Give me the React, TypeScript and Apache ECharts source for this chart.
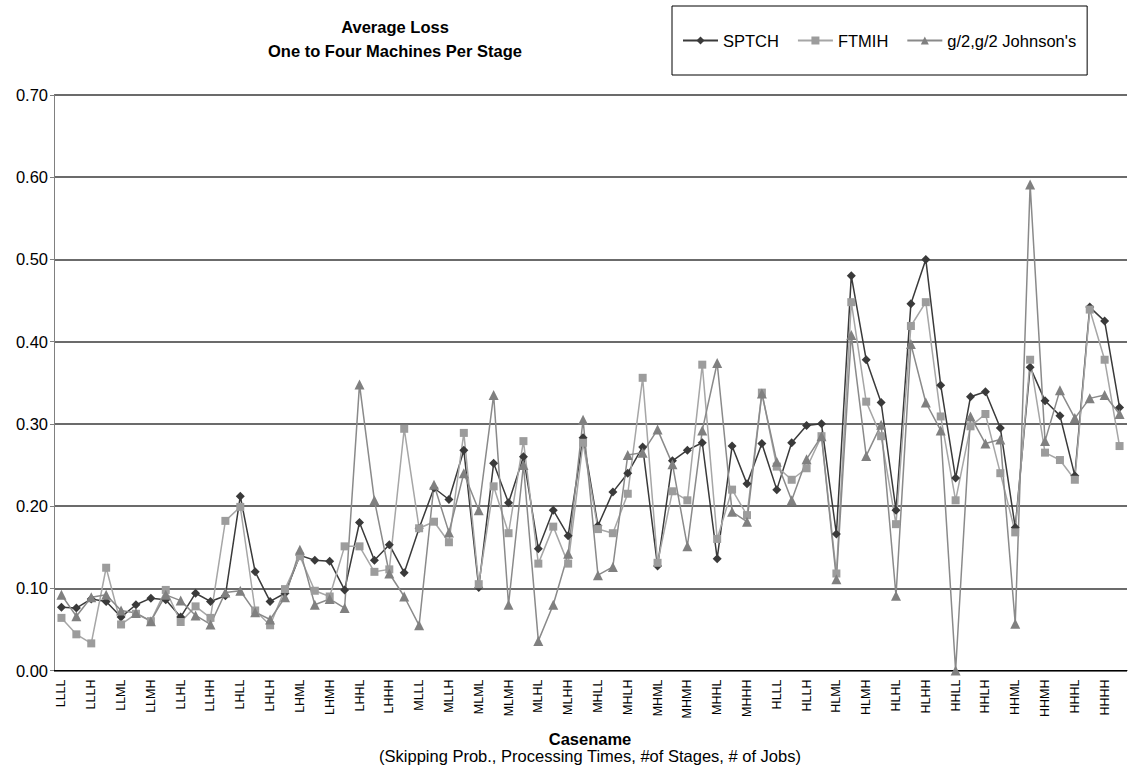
import React, { useEffect, useRef } from "react";
import * as echarts from "echarts";

const caseNames = [
  "LLLL", "LLLH", "LLML", "LLMH", "LLHL", "LLHH",
  "LHLL", "LHLH", "LHML", "LHMH", "LHHL", "LHHH",
  "MLLL", "MLLH", "MLML", "MLMH", "MLHL", "MLHH",
  "MHLL", "MHLH", "MHML", "MHMH", "MHHL", "MHHH",
  "HLLL", "HLLH", "HLML", "HLMH", "HLHL", "HLHH",
  "HHLL", "HHLH", "HHML", "HHMH", "HHHL", "HHHH",
];
// two rows per case name; only the first of each pair is labelled
const categories = caseNames.flatMap((n) => [n, n]);

const sptch = [
  0.077, 0.076, 0.087, 0.084, 0.065, 0.080, 0.088, 0.086, 0.065, 0.094, 0.084, 0.091,
  0.212, 0.120, 0.084, 0.094, 0.140, 0.134, 0.133, 0.098, 0.180, 0.134, 0.153, 0.119,
  0.173, 0.222, 0.208, 0.268, 0.101, 0.252, 0.204, 0.260, 0.148, 0.195, 0.164, 0.283,
  0.176, 0.217, 0.240, 0.272, 0.127, 0.255, 0.268, 0.277, 0.136, 0.273, 0.227, 0.276,
  0.220, 0.277, 0.298, 0.300, 0.166, 0.480, 0.378, 0.326, 0.195, 0.446, 0.500, 0.347,
  0.234, 0.333, 0.339, 0.295, 0.174, 0.369, 0.328, 0.310, 0.237, 0.442, 0.425, 0.320,
];

const ftmih = [
  0.064, 0.044, 0.033, 0.125, 0.056, 0.069, 0.060, 0.098, 0.059, 0.078, 0.064, 0.182,
  0.199, 0.073, 0.055, 0.099, 0.139, 0.097, 0.090, 0.151, 0.151, 0.120, 0.123, 0.294,
  0.173, 0.181, 0.156, 0.289, 0.105, 0.224, 0.167, 0.279, 0.130, 0.175, 0.130, 0.277,
  0.172, 0.167, 0.215, 0.356, 0.131, 0.218, 0.207, 0.372, 0.160, 0.220, 0.189, 0.338,
  0.248, 0.232, 0.246, 0.285, 0.118, 0.448, 0.327, 0.285, 0.178, 0.419, 0.448, 0.309,
  0.207, 0.297, 0.312, 0.240, 0.168, 0.378, 0.265, 0.256, 0.232, 0.439, 0.378, 0.273,
];

const johnson = [
  0.092, 0.066, 0.089, 0.092, 0.073, 0.070, 0.060, 0.092, 0.085, 0.067, 0.056, 0.095,
  0.097, 0.071, 0.062, 0.089, 0.147, 0.080, 0.087, 0.076, 0.348, 0.207, 0.118, 0.090,
  0.055, 0.226, 0.168, 0.240, 0.195, 0.335, 0.080, 0.250, 0.036, 0.080, 0.142, 0.305,
  0.116, 0.126, 0.262, 0.265, 0.293, 0.251, 0.151, 0.292, 0.374, 0.193, 0.181, 0.337,
  0.254, 0.207, 0.257, 0.285, 0.111, 0.408, 0.261, 0.299, 0.091, 0.397, 0.326, 0.292,
  0.000, 0.309, 0.276, 0.281, 0.057, 0.591, 0.279, 0.341, 0.307, 0.331, 0.335, 0.312,
];

const seriesNames = ["SPTCH", "FTMIH", "g/2,g/2 Johnson's"];

const FONT = '"Liberation Sans", Arial, Helvetica, sans-serif';
const FS = 16.5;

export default function App() {
  const ref = useRef<HTMLDivElement>(null);

  useEffect(() => {
    if (!ref.current) return;
    const chart = echarts.init(ref.current, undefined, { renderer: "svg" });
    const textEl = (x: number, y: number, text: string, bold: boolean) => ({
      type: "text",
      x,
      y,
      style: {
        text,
        fontSize: FS,
        fontWeight: bold ? "bold" : "normal",
        fontFamily: FONT,
        fill: "#000",
        align: "center",
        verticalAlign: "middle",
      },
    });
    chart.setOption({
      animation: false,
      backgroundColor: "#ffffff",
      textStyle: { fontFamily: FONT },
      legend: {
        left: 672,
        top: 6,
        padding: [26, 11, 26, 10],
        borderColor: "#000",
        borderWidth: 1,
        itemWidth: 35,
        itemHeight: 10,
        itemGap: 18,
        textStyle: { fontSize: FS, color: "#000", fontFamily: FONT },
        data: seriesNames,
      },
      grid: { left: 54, right: 1, top: 95, bottom: 96.5 },
      xAxis: {
        type: "category",
        data: categories,
        boundaryGap: true,
        axisLine: { lineStyle: { color: "#000", width: 1 } },
        axisTick: { interval: 0, length: 5, lineStyle: { color: "#000" } },
        axisLabel: {
          interval: 1,
          rotate: 90,
          fontSize: 12.5,
          color: "#000",
          margin: 9,
          fontFamily: FONT,
        },
        splitLine: { show: false },
      },
      yAxis: {
        type: "value",
        min: 0,
        max: 0.7,
        interval: 0.1,
        axisLine: { show: true, lineStyle: { color: "#808080", width: 1 } },
        axisTick: { show: true, length: 4, lineStyle: { color: "#808080" } },
        axisLabel: {
          formatter: (v: number) => v.toFixed(2),
          fontSize: FS,
          color: "#000",
          margin: 6,
          fontFamily: FONT,
        },
        splitLine: { lineStyle: { color: "#3a3a3a", width: 1.5 } },
      },
      graphic: [
        textEl(395, 27, "Average Loss", true),
        textEl(395, 51, "One to Four Machines Per Stage", true),
        textEl(590, 739, "Casename", true),
        textEl(590, 756, "(Skipping Prob., Processing Times, #of Stages, # of Jobs)", false),
      ],
      series: [
        {
          name: seriesNames[0],
          type: "line",
          data: sptch,
          symbol: "diamond",
          symbolSize: 9,
          showAllSymbol: true,
          lineStyle: { color: "#3a3a3a", width: 1.5 },
          itemStyle: { color: "#3a3a3a" },
        },
        {
          name: seriesNames[1],
          type: "line",
          data: ftmih,
          symbol: "rect",
          symbolSize: 8,
          showAllSymbol: true,
          lineStyle: { color: "#a6a6a6", width: 1.5 },
          itemStyle: { color: "#9c9c9c" },
        },
        {
          name: seriesNames[2],
          type: "line",
          data: johnson,
          symbol: "triangle",
          symbolSize: 10,
          showAllSymbol: true,
          lineStyle: { color: "#8a8a8a", width: 1.5 },
          itemStyle: { color: "#808080" },
        },
      ],
    });
    return () => chart.dispose();
  }, []);

  return (
    <div
      ref={ref}
      style={{ position: "fixed", left: 0, top: 0, width: 1128, height: 767, background: "#fff" }}
    />
  );
}
